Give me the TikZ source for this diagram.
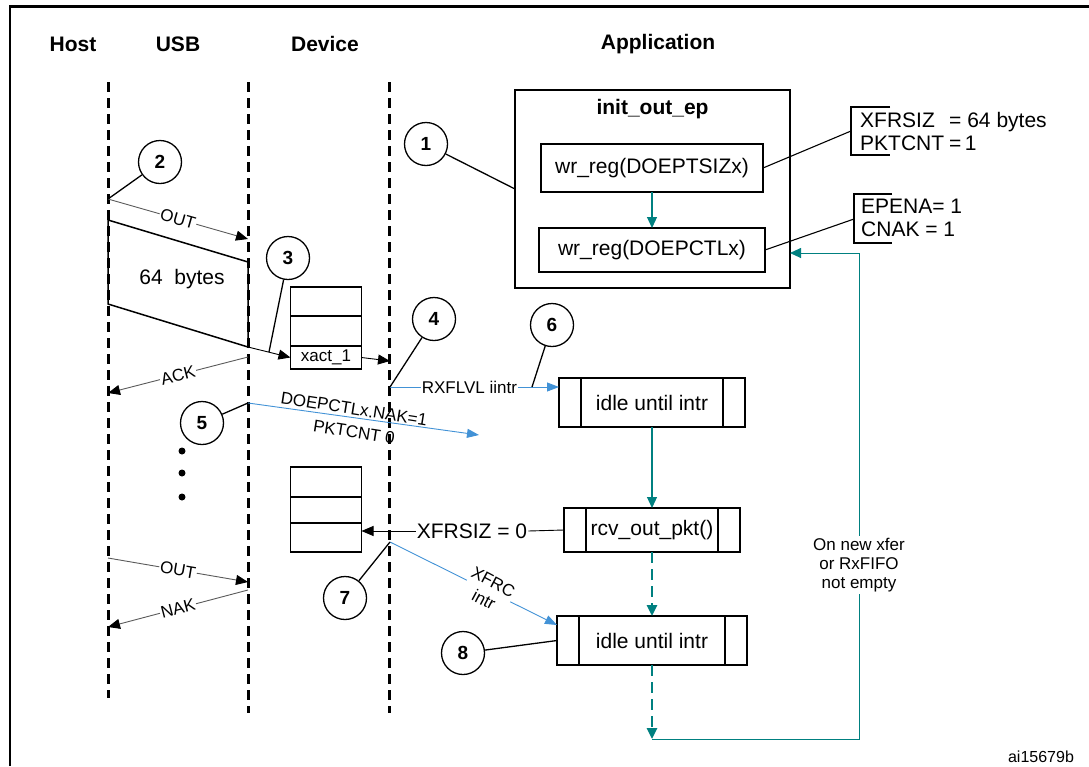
\documentclass[tikz,border=0pt]{standalone}
\usepackage{fontspec}
\setmainfont{Liberation Sans}
\usepackage{xcolor}
\usepackage{tikz}
\usetikzlibrary{positioning,arrows.meta}
\definecolor{flowteal}{RGB}{0,128,128}
\definecolor{intrblue}{RGB}{66,146,214}
\definecolor{busgray}{RGB}{90,90,90}
\newcommand{\bigsz}{\fontsize{21}{23}\selectfont}
\newcommand{\smallsz}{\fontsize{17}{19}\selectfont}

\begin{document}
\begin{tikzpicture}[x=1pt, y=-1pt,
  head/.style={font=\bigsz\bfseries},
  num/.style={draw, circle, line width=1.3pt, minimum size=43pt, inner sep=0pt, font=\fontsize{19}{21}\selectfont\bfseries},
  regbox/.style={draw, line width=1.2pt, font=\bigsz, inner sep=0pt, outer sep=0pt},
  procbox/.style={regbox, path picture={\draw[line width=1.2pt] ([xshift=22pt]path picture bounding box.north west) -- ([xshift=22pt]path picture bounding box.south west) ([xshift=-22pt]path picture bounding box.north east) -- ([xshift=-22pt]path picture bounding box.south east);}},
  cell/.style={draw, line width=1.1pt, minimum width=71pt, inner sep=0pt, outer sep=0pt, font=\smallsz},
  life/.style={line width=3pt, dash pattern=on 10pt off 6pt},
  callout/.style={line width=1.3pt},
  bus/.style={draw=busgray, line width=0.9pt, -{Triangle[length=12pt,width=10pt,color=black]}},
  buslbl/.style={font=\smallsz, fill=white, inner sep=1pt, sloped},
  sig/.style={draw=intrblue, line width=0.9pt, -{Triangle[length=12pt,width=9pt,color=intrblue]}},
  flow/.style={draw=flowteal, line width=1.2pt, -{Triangle[length=11pt,width=10pt,color=flowteal]}},
  flowdash/.style={flow, line width=2.6pt, dash pattern=on 11pt off 6pt}]
		\useasboundingbox (0,0) rectangle (1089,766);
		\draw[line width=2.8pt] (10,766) -- (10,6.5) -- (1089,6.5);

		\node[head] (host) at (73,44) {Host};
		\node[head] (usb) at (178,44) {USB};
		\node[head] (dev) at (325,44) {Device};
		\node[head] (app) at (658,44) {Application};

		\coordinate (out1a) at (108,199); \coordinate (out1b) at (248,239);
		\coordinate (dat1a) at (108,220); \coordinate (dat1b) at (248,262);
		\coordinate (dat2a) at (108,304); \coordinate (dat2b) at (248,347);
		\coordinate (ack1a) at (248,357); \coordinate (ack1b) at (108,393);
		\coordinate (ctlsig) at (248,403); \coordinate (ctlend) at (479,435);
		\coordinate (out2a) at (108,558); \coordinate (out2b) at (248,582);
		\coordinate (nak2a) at (248,590); \coordinate (nak2b) at (108,627);
		\coordinate (fifohit) at (269,352);
		\coordinate (devin) at (390,361);
		\coordinate (rxsig) at (390,387); \coordinate (rxhit) at (532,387);
		\coordinate (xfrcsig) at (390,542); \coordinate (xfrcend) at (557,625);
		\coordinate (loopend) at (652,739); \coordinate (loopturn) at (859,253);
		\coordinate (szbr) at (851,131); \coordinate (ctlbr) at (854,219);

		\node[font=\smallsz, rotate=-9, inner sep=0pt] (naklbl) at (354,409) {DOEPCTLx.NAK=1};
		\node[font=\smallsz, rotate=-9, inner sep=0pt] (pktlbl) at (354,432) {PKTCNT 0};

		\draw[life] (108,82) -- (108,698);
		\draw[life] (248,82) -- (248,713);
		\draw[life] (389.5,82) -- (389.5,713);

		\node[regbox, minimum width=275pt, minimum height=198pt] (initep) at (652.5,189) {};
		\node[head, below=6pt of initep.north] (initlbl) {init\_out\_ep};
		\node[regbox, minimum width=222pt, minimum height=48pt] (tsiz) at (652,168) {wr\_reg(DOEPTSIZx)};
		\node[regbox, minimum width=226pt, minimum height=44pt] (ctlx) at (652,250) {wr\_reg(DOEPCTLx)};
		\draw[flow] (tsiz) -- (ctlx);

		\node[font=\bigsz, align=left, anchor=west, inner sep=0pt] (szval) at (860,131) {\makebox[89pt][l]{XFRSIZ}= 64 bytes\\\makebox[89pt][l]{PKTCNT}=\,1};
		\draw[line width=1.1pt] (890,107) -- (851,107) -- (851,155) -- (890,155);
		\draw[line width=1.1pt] (tsiz.east) -- (szbr);
		\node[font=\bigsz, align=left, anchor=west, inner sep=0pt] (ctlval) at (861,218) {EPENA= 1\\CNAK = 1};
		\draw[line width=1.1pt] (892,194) -- (854,194) -- (854,243) -- (892,243);
		\draw[line width=1.1pt] (ctlx.east) -- (ctlbr);

		\node[cell, minimum height=29pt] (fa1) at (326,301.5) {};
		\node[cell, minimum height=30pt, below=0pt of fa1] (fa2) {};
		\node[cell, minimum height=23pt, below=0pt of fa2] (fa3) {xact\_1};
		\node[cell, minimum height=30pt] (fb1) at (326,482) {};
		\node[cell, minimum height=26pt, below=0pt of fb1] (fb2) {};
		\node[cell, minimum height=29pt, below=0pt of fb2] (fb3) {};

		\draw[bus] (out1a) -- node[buslbl] {OUT} (out1b);
		\draw[line width=1.5pt] (dat1a) -- (dat1b) -- (dat2b) -- (dat2a) -- cycle;
		\node[font=\bigsz] (bytes) at (182,279) {64\ \ bytes};
		\draw[bus, draw=black] (dat2b) -- (fa3.west);
		\draw[bus, draw=black] (fa3.east) -- (devin);
		\draw[bus] (ack1a) -- node[buslbl] {ACK} (ack1b);
		\draw[sig] (ctlsig) -- (ctlend);
		\draw[bus] (out2a) -- node[buslbl] {OUT} (out2b);
		\draw[bus] (nak2a) -- node[buslbl] {NAK} (nak2b);
		\fill (182,451) circle (3.5pt) (182,473) circle (3.5pt) (182,497) circle (3.5pt);

		\node[procbox, minimum width=186pt, minimum height=49pt] (idleA) at (652,402.5) {idle until intr};
		\node[procbox, minimum width=176pt, minimum height=44pt] (rcvpkt) at (652,530) {rcv\_out\_pkt()};
		\node[procbox, minimum width=190pt, minimum height=49pt] (idleB) at (652,640.5) {idle until intr};
		\draw[flow] (idleA) -- (rcvpkt);
		\draw[flowdash] (rcvpkt) -- (idleB);
		\draw[flowdash] (idleB) -- (loopend);
		\draw[flow, line width=0.9pt] (loopend) -| (loopturn) -- (loopturn -| initep.east);
		\node[font=\smallsz, fill=white, align=center, inner sep=2pt] (loopnote) at (859,565) {On new xfer\\or RxFIFO\\not empty};

		\draw[sig] (rxsig) -- node[font=\smallsz, fill=white, inner sep=1pt, pos=0.47] (rxlbl) {RXFLVL iintr} (rxsig -| idleA.west);
		\node[font=\bigsz, fill=white, inner sep=1pt] (xzero) at (472,531) {XFRSIZ = 0};
		\draw[line width=0.9pt] (xzero.east) -- (rcvpkt.west);
		\draw[bus, draw=black] (xzero.west) -- (xzero.west -| fb3.east);
		\draw[sig] (xfrcsig) -- node[font=\fontsize{17}{20}\selectfont, fill=white, align=center, inner sep=1pt, rotate=-28, pos=0.59] (xfrclbl) {XFRC\\intr} (xfrcend);

		\node[num] (c1) at (426,144) {1};
		\draw[callout] (c1) -- (initep.west);
		\node[num] (c2) at (160,162) {2};
		\draw[callout] (c2) -- (out1a);
		\node[num] (c3) at (288,258) {3};
		\draw[callout] (c3) -- (fifohit);
		\node[num] (c4) at (434,319) {4};
		\draw[callout] (c4) -- (rxsig);
		\node[num] (c5) at (202,423) {5};
		\draw[callout] (c5) -- (ctlsig);
		\node[num] (c6) at (552,325) {6};
		\draw[callout] (c6) -- (rxhit);
		\node[num] (c7) at (345,598) {7};
		\draw[callout] (c7) -- (xfrcsig);
		\node[num] (c8) at (463,653) {8};
		\draw[callout] (c8) -- (idleB.west);

		\node[font=\fontsize{16}{18}\selectfont] (figid) at (1041,757) {ai15679b};
	\end{tikzpicture}
\end{document}
